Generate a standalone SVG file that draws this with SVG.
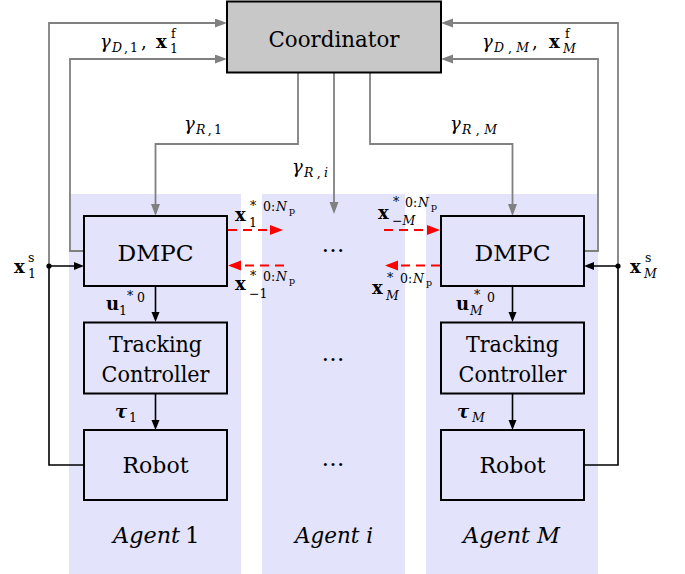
<svg xmlns="http://www.w3.org/2000/svg" width="685" height="574" viewBox="0 0 685 574">
<style>
text{font-family:'DejaVu Serif',serif;fill:#000}
.big{font-size:23px}
.m{font-size:18px}
.s{font-size:12.5px}
.ss{font-size:9.5px}
.b{font-weight:bold}
.i{font-style:italic}
.bg{fill:#e3e3fb;stroke:none}
.box{fill:none;stroke:#000;stroke-width:2}
.g{fill:none;stroke:#808080;stroke-width:1.8}
.k{fill:none;stroke:#000;stroke-width:1.6}
.r{fill:none;stroke:#ff0000;stroke-width:1.8;stroke-dasharray:9 6}
</style>
<defs>
<marker id="ag" markerUnits="userSpaceOnUse" markerWidth="14" markerHeight="10" refX="9" refY="4.5" orient="auto"><path d="M0,0 L12,4.5 L0,9 z" fill="#808080"/></marker>
<marker id="ak" markerUnits="userSpaceOnUse" markerWidth="12" markerHeight="9" refX="7" refY="4" orient="auto"><path d="M0,0 L10,4 L0,8 z" fill="#000"/></marker>
<marker id="ar" markerUnits="userSpaceOnUse" markerWidth="14" markerHeight="11" refX="10" refY="5" orient="auto"><path d="M0,0 L13,5 L0,10 z" fill="#ff0000"/></marker>
</defs>

<g id="agent1">
<rect class="bg" x="69" y="194" width="172" height="380"/>
<text class="big i" x="113" y="543" textLength="67" lengthAdjust="spacingAndGlyphs">Agent</text>
<text class="big" x="185" y="543">1</text>
</g>
<g id="agenti">
<rect class="bg" x="262" y="194" width="143" height="380"/>
<text class="big i" x="295" y="543" textLength="78" lengthAdjust="spacingAndGlyphs">Agent i</text>
<text class="big" x="333" y="251.5" text-anchor="middle" textLength="27">…</text>
<text class="big" x="333" y="360.5" text-anchor="middle" textLength="27">…</text>
<text class="big" x="333" y="465.5" text-anchor="middle" textLength="27">…</text>
</g>
<g id="agentM">
<rect class="bg" x="426" y="194" width="172" height="380"/>
<text class="big i" x="463" y="543" textLength="97" lengthAdjust="spacingAndGlyphs">Agent M</text>
</g>

<g id="connectors">
<path class="g" d="M49,266 V23 H224" marker-end="url(#ag)"/>
<path class="g" d="M84,251 H70 V59 H224" marker-end="url(#ag)"/>
<path class="g" d="M298,72.5 V144 H155.5 V213" marker-end="url(#ag)"/>
<path class="g" d="M334,72.5 V211" marker-end="url(#ag)"/>
<path class="g" d="M370,72.5 V144 H512.5 V213" marker-end="url(#ag)"/>
<path class="g" d="M584,251 H598 V59 H444" marker-end="url(#ag)"/>
<path class="g" d="M618,266 V23 H444" marker-end="url(#ag)"/>
<path class="k" d="M84,465 H49 V266 H81" marker-end="url(#ak)"/>
<path class="k" d="M584,465 H618 V266 H587" marker-end="url(#ak)"/>
<circle cx="49" cy="266" r="2.6" fill="#000"/>
<circle cx="618" cy="266" r="2.6" fill="#000"/>
<path class="k" d="M155.5,287 V319" marker-end="url(#ak)"/>
<path class="k" d="M155.5,394 V427" marker-end="url(#ak)"/>
<path class="k" d="M512.5,287 V319" marker-end="url(#ak)"/>
<path class="k" d="M512.5,394 V427" marker-end="url(#ak)"/>
<path class="r" d="M228,230 H280" marker-end="url(#ar)"/>
<path class="r" d="M284,265.5 H231" marker-end="url(#ar)"/>
<path class="r" d="M384,230 H437" marker-end="url(#ar)"/>
<path class="r" d="M440,265.5 H388" marker-end="url(#ar)"/>
</g>

<g id="coordinator">
<rect x="227" y="1.5" width="214" height="71" fill="#c8c8c8" stroke="#000" stroke-width="2"/>
<text class="big" x="334" y="47" text-anchor="middle" textLength="131" lengthAdjust="spacingAndGlyphs">Coordinator</text>
</g>

<g id="dmpc1">
<rect class="box" x="84" y="216" width="143" height="70"/>
<text class="big" x="155.5" y="261" text-anchor="middle" textLength="76" lengthAdjust="spacingAndGlyphs">DMPC</text>
</g>
<g id="tracking1">
<rect class="box" x="84" y="322.5" width="143" height="71"/>
<text class="big" x="155.5" y="352" text-anchor="middle" textLength="93" lengthAdjust="spacingAndGlyphs">Tracking</text>
<text class="big" x="155.5" y="382" text-anchor="middle" textLength="108" lengthAdjust="spacingAndGlyphs">Controller</text>
</g>
<g id="robot1">
<rect class="box" x="84" y="430" width="143" height="70"/>
<text class="big" x="155.5" y="473" text-anchor="middle" textLength="66" lengthAdjust="spacingAndGlyphs">Robot</text>
</g>
<g id="dmpcM">
<rect class="box" x="441" y="216" width="143" height="70"/>
<text class="big" x="512.5" y="261" text-anchor="middle" textLength="76" lengthAdjust="spacingAndGlyphs">DMPC</text>
</g>
<g id="trackingM">
<rect class="box" x="441" y="322.5" width="143" height="71"/>
<text class="big" x="512.5" y="352" text-anchor="middle" textLength="93" lengthAdjust="spacingAndGlyphs">Tracking</text>
<text class="big" x="512.5" y="382" text-anchor="middle" textLength="108" lengthAdjust="spacingAndGlyphs">Controller</text>
</g>
<g id="robotM">
<rect class="box" x="441" y="430" width="143" height="70"/>
<text class="big" x="512.5" y="473" text-anchor="middle" textLength="66" lengthAdjust="spacingAndGlyphs">Robot</text>
</g>

<g id="labels">
<text class="m i" x="100" y="48">γ</text>
<text class="s" x="112" y="52" textLength="26"><tspan class="i">D</tspan>,1</text>
<text class="m" x="141" y="48">,</text>
<text class="m b" x="156" y="48">x</text>
<text class="s" x="170" y="53">1</text>
<text class="s" x="171" y="38">f</text>

<text class="m i" x="482" y="48">γ</text>
<text class="s" x="494" y="52" textLength="35"><tspan class="i">D</tspan>,<tspan class="i">M</tspan></text>
<text class="m" x="532" y="48">,</text>
<text class="m b" x="549" y="48">x</text>
<text class="s i" x="563" y="53">M</text>
<text class="s" x="565" y="38">f</text>

<text class="m i" x="184" y="130">γ</text>
<text class="s" x="196" y="134" textLength="26"><tspan class="i">R</tspan>,1</text>
<text class="m i" x="292" y="173">γ</text>
<text class="s" x="304" y="177" textLength="24"><tspan class="i">R</tspan>,<tspan class="i">i</tspan></text>
<text class="m i" x="450" y="130">γ</text>
<text class="s" x="462" y="134" textLength="35"><tspan class="i">R</tspan>,<tspan class="i">M</tspan></text>

<text class="m b" x="235" y="221">x</text>
<text class="s" x="249" y="227">1</text>
<text class="s" x="250" y="210">*</text>
<text class="s" x="263" y="211">0:</text>
<text class="s i" x="276" y="211">N</text>
<text class="ss" x="289" y="214">p</text>

<text class="m b" x="235" y="290">x</text>
<text class="s" x="249" y="298">−1</text>
<text class="s" x="250" y="280">*</text>
<text class="s" x="263" y="281">0:</text>
<text class="s i" x="276" y="281">N</text>
<text class="ss" x="289" y="284">p</text>

<text class="m b" x="378" y="219">x</text>
<text class="s" x="392" y="225">−<tspan class="i">M</tspan></text>
<text class="s" x="393" y="206">*</text>
<text class="s" x="405" y="207">0:</text>
<text class="s i" x="418" y="207">N</text>
<text class="ss" x="431" y="210">p</text>

<text class="m b" x="372" y="294">x</text>
<text class="s i" x="386" y="300">M</text>
<text class="s" x="387" y="282">*</text>
<text class="s" x="400" y="283">0:</text>
<text class="s i" x="413" y="283">N</text>
<text class="ss" x="426" y="286">p</text>

<text class="m b" x="106" y="310">u</text>
<text class="s" x="119" y="315">1</text>
<text class="s" x="127" y="300">*</text>
<text class="s" x="137" y="302">0</text>
<text class="m b" x="456" y="310">u</text>
<text class="s i" x="470" y="315">M</text>
<text class="s" x="474" y="299">*</text>
<text class="s" x="487" y="302">0</text>

<text class="m b i" x="115" y="418">τ</text>
<text class="s" x="129" y="422">1</text>
<text class="m b i" x="457" y="418">τ</text>
<text class="s i" x="472" y="422">M</text>

<text class="m b" x="14" y="273">x</text>
<text class="s" x="28" y="278">1</text>
<text class="s" x="28" y="262">s</text>
<text class="m b" x="630" y="273">x</text>
<text class="s i" x="644" y="278">M</text>
<text class="s" x="645" y="262">s</text>
</g>
</svg>
